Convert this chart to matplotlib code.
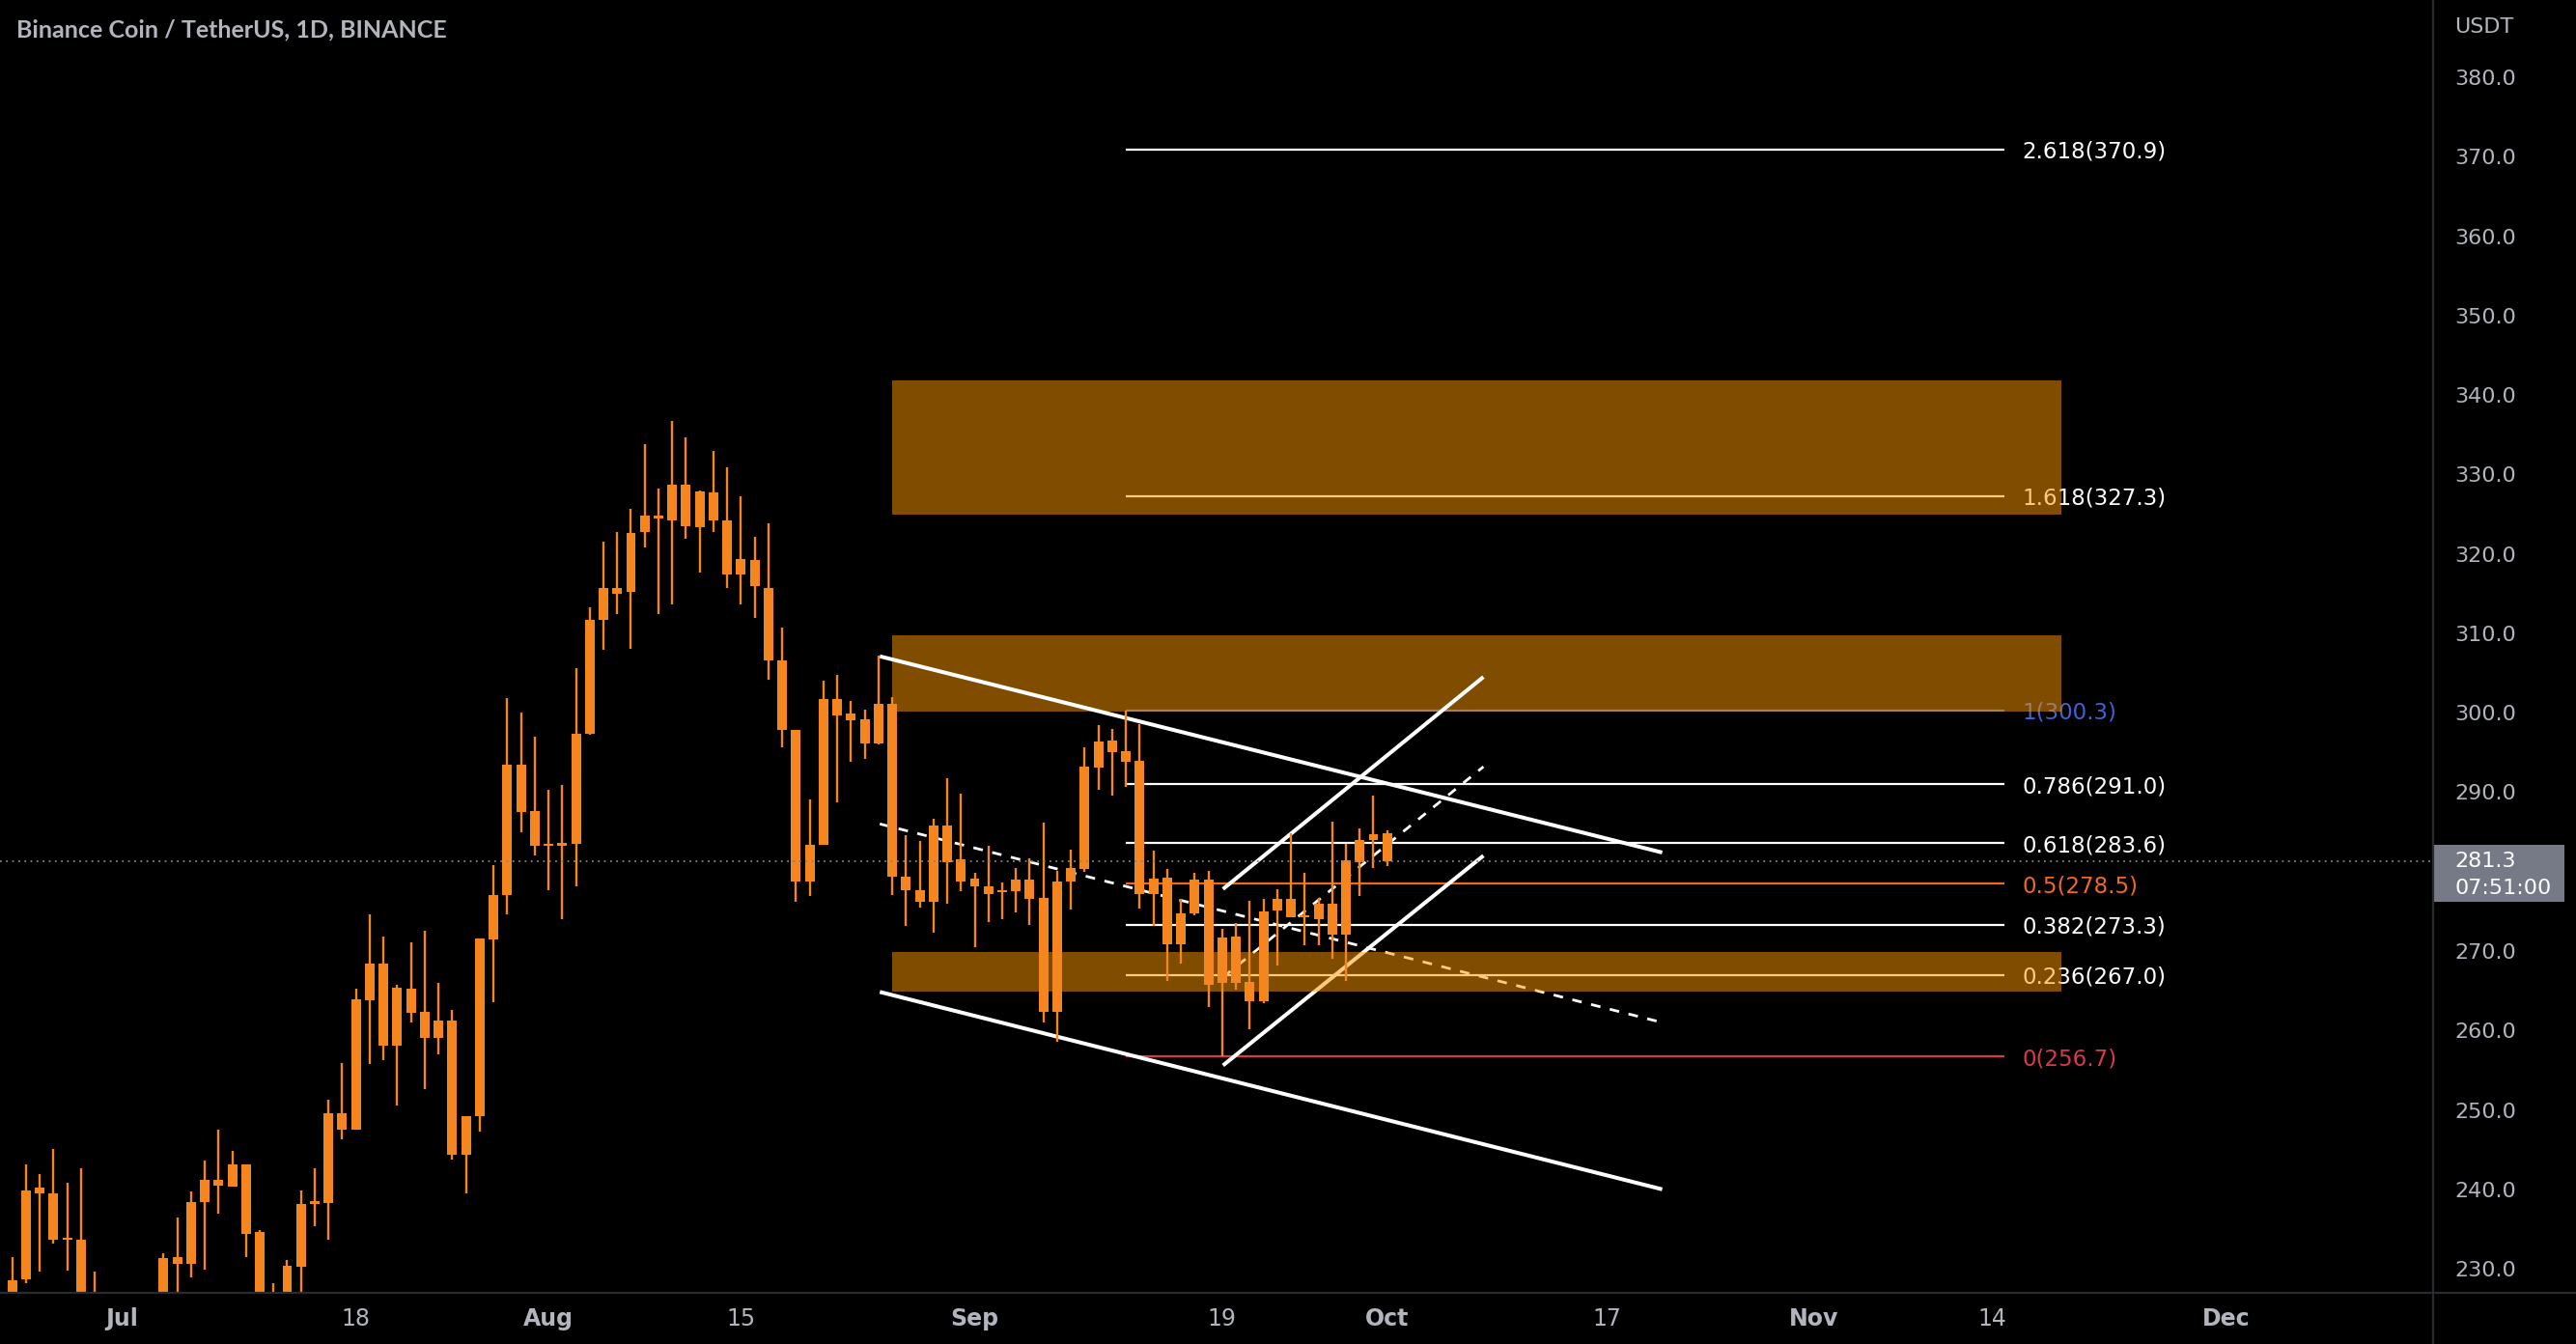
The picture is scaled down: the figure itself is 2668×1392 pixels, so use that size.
from matplotlib import pyplot as plt
from matplotlib.patches import Rectangle
from matplotlib.lines import Line2D
import matplotlib.transforms as mtransforms

# day index: 0 = 1 Jul 2022
days = list(range(-8, 93))
opens = [225.0, 228.7, 240.2, 239.5, 233.8, 233.6, 222.0, 217.5,
         219.0, 223.5, 222.0, 225.0, 231.5, 230.6, 238.4, 241.2, 240.4, 243.1,
         234.6, 224.5, 222.0, 230.3, 238.2, 238.3, 249.6, 247.5, 263.8, 268.4,
         258.1, 265.3, 262.3, 259.0, 261.2, 244.4, 249.2, 271.4, 277.0, 293.5,
         287.6, 283.2, 283.3, 283.5, 297.4, 311.7, 315.7, 315.2, 322.7, 324.8,
         324.2, 328.7, 323.3, 327.7, 324.2, 317.4, 319.2, 315.7, 306.6, 297.8,
         278.8, 283.4, 301.7, 299.9, 299.2, 296.1, 301.1, 279.4, 277.7, 276.2,
         285.8, 281.5, 279.1, 278.1, 277.4, 277.5, 279.0, 276.7, 262.3, 278.7,
         280.3, 293.1, 296.5, 295.1, 293.9, 277.2, 279.2, 270.9, 274.7, 279.0,
         266.0, 271.8, 266.1, 263.7, 275.1, 276.6, 274.2, 274.0, 276.0, 272.1,
         281.2, 284.0, 284.8]
closes = [228.6, 239.9, 239.5, 233.6, 233.6, 222.0, 217.5, 219.0,
          223.5, 222.0, 225.0, 231.3, 230.6, 238.4, 241.2, 240.5, 243.1, 234.4,
          224.5, 222.0, 230.4, 238.2, 238.4, 249.6, 247.5, 263.9, 268.4, 258.1,
          265.4, 262.2, 259.0, 261.2, 244.4, 249.2, 271.6, 277.0, 293.5, 287.5,
          283.2, 283.3, 283.5, 297.4, 311.7, 315.7, 315.0, 322.6, 324.8, 324.4,
          328.7, 323.5, 327.9, 324.2, 317.4, 319.3, 315.9, 306.6, 297.8, 278.8,
          283.4, 301.7, 299.7, 299.0, 296.1, 301.1, 279.4, 277.7, 276.2, 285.8,
          281.2, 278.8, 278.1, 277.2, 277.6, 279.0, 276.5, 262.3, 278.7, 280.4,
          293.2, 296.4, 295.0, 293.8, 277.2, 279.1, 270.9, 274.7, 279.0, 265.8,
          271.7, 266.0, 263.7, 275.0, 276.6, 274.2, 274.3, 275.9, 272.1, 281.4,
          284.0, 284.7, 281.3]
highs = [231.5, 243.1, 241.9, 245.1, 240.8, 242.6, 229.7, 224.0,
         226.0, 225.5, 226.5, 232.0, 236.4, 239.7, 243.6, 247.5, 244.8, 243.1,
         234.9, 228.2, 231.1, 239.9, 242.6, 251.3, 255.9, 265.3, 274.6, 271.8,
         265.7, 271.1, 272.5, 266.0, 262.6, 249.2, 271.6, 280.8, 301.8, 300.0,
         297.0, 290.3, 290.9, 305.6, 313.3, 321.5, 322.8, 325.7, 333.8, 328.2,
         336.7, 334.6, 328.0, 332.9, 330.9, 327.3, 322.2, 323.8, 310.7, 297.8,
         289.1, 304.0, 304.8, 301.5, 300.4, 307.2, 302.0, 284.6, 283.9, 286.6,
         291.8, 289.8, 279.9, 283.3, 278.6, 280.4, 281.7, 286.2, 280.1, 282.8,
         295.7, 298.4, 297.9, 300.3, 298.6, 282.6, 280.3, 276.5, 279.8, 280.1,
         272.8, 273.5, 276.3, 276.6, 277.8, 284.8, 279.8, 276.7, 286.3, 283.5,
         285.4, 289.6, 285.2]
lows = [223.5, 228.2, 229.6, 233.2, 229.8, 220.5, 214.5, 211.0,
        216.0, 218.0, 219.5, 223.5, 226.0, 228.9, 229.9, 236.9, 240.3, 231.5,
        223.0, 219.0, 221.0, 227.0, 235.3, 233.6, 246.3, 247.5, 255.8, 256.3,
        250.6, 261.0, 252.6, 257.0, 243.7, 239.5, 247.3, 263.5, 274.6, 285.0,
        282.0, 277.7, 274.0, 278.1, 297.2, 307.9, 312.4, 308.1, 320.8, 312.4,
        313.6, 321.9, 317.6, 322.7, 315.7, 313.6, 311.9, 304.1, 295.6, 276.2,
        276.9, 283.4, 288.7, 293.8, 294.2, 296.0, 277.0, 273.2, 275.5, 272.3,
        275.9, 277.5, 270.5, 273.6, 274.0, 274.9, 273.3, 261.0, 258.6, 275.2,
        280.0, 290.3, 289.6, 290.7, 275.3, 273.2, 266.2, 268.4, 274.5, 263.0,
        256.7, 265.1, 260.2, 263.4, 268.2, 274.2, 270.7, 270.7, 269.0, 266.2,
        276.9, 280.4, 280.7]

date_ticks = [0, 17, 31, 45, 62, 80, 92, 108, 123, 136, 153]
date_labels = ['Jul', '18', 'Aug', '15', 'Sep', '19', 'Oct', '17', 'Nov', '14', 'Dec']
month_labels = ['Jul', 'Aug', 'Sep', 'Oct', 'Nov', 'Dec']
price_ticks = list(range(230, 390, 10))

fib_ratios = ['0', '0.236', '0.382', '0.5', '0.618', '0.786', '1', '1.618', '2.618']
fib_prices = [256.7, 267.0, 273.3, 278.5, 283.6, 291.0, 300.3, 327.3, 370.9]
fib_colors = ['#D8394B', 'white', 'white', '#EE6A1E', 'white', 'white', '#3D63D6', 'white', 'white']
fib_start, fib_end, fib_text_x = 73, 136.9, 138.2

zone_start, zone_end = 56.0, 141.0
zone_lows = [324.9, 300.2, 264.9]
zone_highs = [341.8, 309.8, 269.9]

fall_x = [55.1, 112.0]
fall_upper = [307.1, 282.4]
fall_lower = [264.85, 240.0]
fall_mid = [286.0, 261.0]
rise_x = [80.06, 99.0]
rise_upper = [277.8, 304.5]
rise_lower = [255.6, 282.0]
rise_mid = [266.7, 293.2]

last_price = 281.3
countdown = '07:51:00'

candle_c = '#F5861F'
text_c = '#B2B5BE'
sep_c = '#2A2B30'

fig = plt.figure(figsize=(26.68, 13.92), dpi=100, facecolor='black')
ax = fig.add_axes([0, 53 / 1392, 2520 / 2668, 1339 / 1392])
ax.set_facecolor('black')
ax.set_xlim(-8.89, 168.07)
ax.set_ylim(226.97, 389.72)
for s in ax.spines.values():
    s.set_visible(False)

# fib retracement
ax.hlines(fib_prices, fib_start, fib_end, colors=fib_colors, lw=1.6, zorder=2)
for r, p, c in zip(fib_ratios, fib_prices, fib_colors):
    ax.text(fib_text_x, p, f'{r}({p:.1f})', color=c, fontsize=16.5,
            va='center_baseline', ha='left', zorder=2)

# zones
for i, (lo, hi) in enumerate(zip(zone_lows, zone_highs)):
    z = 4.5 if i == 2 else 3
    ax.add_patch(Rectangle((zone_start, lo), zone_end - zone_start, hi - lo,
                           facecolor='#FF9800', alpha=0.5, lw=0, zorder=z))

# channels
ax.plot(fall_x, fall_upper, color='white', lw=2.9, solid_capstyle='butt', zorder=4)
ax.plot(fall_x, fall_lower, color='white', lw=2.9, solid_capstyle='butt', zorder=4)
ax.plot(fall_x, fall_mid, color='white', lw=2.0, ls=(0, (3.6, 3.6)), zorder=4)
ax.plot(rise_x, rise_upper, color='white', lw=2.9, solid_capstyle='butt', zorder=4)
ax.plot(rise_x, rise_lower, color='white', lw=2.9, solid_capstyle='butt', zorder=4)
ax.plot(rise_x, rise_mid, color='white', lw=2.0, ls=(0, (3.6, 3.6)), zorder=4)

# candles
body_lo = [min(o, c) for o, c in zip(opens, closes)]
body_h = [max(abs(c - o), 0.3) for o, c in zip(opens, closes)]
ax.vlines(days, lows, highs, color=candle_c, lw=1.7, zorder=6)
ax.bar(days, body_h, bottom=body_lo, width=0.7, color=candle_c, lw=0, zorder=6)

# last price line
ax.axhline(last_price, color='#7E818A', lw=1.3, ls=(0, (1, 2.5)), zorder=7)

# axes ticks
ax.set_xticks(date_ticks)
ax.set_xticklabels(date_labels)
ax.yaxis.tick_right()
ax.set_yticks(price_ticks)
# the 280.0 label sits under the last-price tag
ax.set_yticklabels(['' if abs(v - last_price) < 4 else f'{v:.1f}' for v in price_ticks])
ax.tick_params(axis='y', length=0, pad=15.8, labelsize=16, labelcolor=text_c)
ax.tick_params(axis='x', length=0, pad=10.5, labelsize=17, labelcolor=text_c)
for lab in ax.get_xticklabels():
    if lab.get_text() in month_labels:
        lab.set_fontweight('bold')

# price label on the axis
trans = mtransforms.blended_transform_factory(ax.transAxes, ax.transData)
ax.add_patch(Rectangle((1.0, 276.2), 136 / 2520, 7.17, transform=trans,
                       facecolor='#767A87', lw=0, clip_on=False, zorder=8))
ax.text(1 + 22 / 2520, last_price, f'{last_price:.1f}', transform=trans,
        color='white', fontsize=16, va='center', ha='left', zorder=9)
ax.text(1 + 22 / 2520, 277.84, countdown, transform=trans,
        color='white', fontsize=16, va='center', ha='left', zorder=9)

# separators
fig.add_artist(Line2D([2520 / 2668] * 2, [0, 1], transform=fig.transFigure,
                      color=sep_c, lw=1.6))
fig.add_artist(Line2D([0, 1], [53 / 1392] * 2, transform=fig.transFigure,
                      color=sep_c, lw=1.6))

fig.text(2542 / 2668, 1 - 28 / 1392, 'USDT', color=text_c, fontsize=16,
         va='center', ha='left')
fig.text(17 / 2668, 1 - 31 / 1392, 'Binance Coin / TetherUS, 1D, BINANCE',
         color=text_c, fontsize=18, fontfamily='Lato', fontweight='bold',
         va='center', ha='left')

fig.savefig('out.png', dpi=100, facecolor='black')
